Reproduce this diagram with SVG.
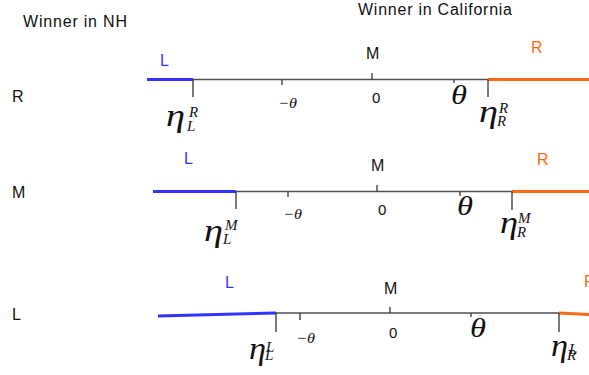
<svg xmlns="http://www.w3.org/2000/svg" width="589" height="375" viewBox="0 0 589 375">
<style>
.t{font-family:"Liberation Sans",Arial,sans-serif;fill:#111}
.title{font-size:16px}
.lab{font-size:16px}
.seg{font-size:16px}
.zero{font-size:15px}
.blue{fill:#3333ff}
.org{fill:#ff6a13}
.m{font-family:"Liberation Serif","Times New Roman",serif;font-style:italic;fill:#111}
.eta{font-size:31px}
.th{font-size:27px}
.sm{font-size:15px}
.sc{font-size:15px}
.ax{stroke:#505050;stroke-width:1.3;fill:none}
.tk{stroke:#333;stroke-width:1.3;fill:none}
.bl{stroke:#3333ff;stroke-width:3;fill:none}
.or{stroke:#ff6a13;stroke-width:3;fill:none}
</style>
<rect width="589" height="375" fill="#fff"/>
<g id="titles">
<text class="t title" x="23" y="27" textLength="104" lengthAdjust="spacing">Winner in NH</text>
<text class="t title" x="358" y="15" textLength="154" lengthAdjust="spacing">Winner in California</text>
</g>
<g id="row-R">
<text class="t lab" x="12" y="102">R</text>
<line class="bl" x1="147" y1="79.5" x2="193" y2="79.5"/>
<line class="ax" x1="193" y1="79.5" x2="488" y2="79.5"/>
<line class="or" x1="488" y1="79.5" x2="589" y2="79.5"/>
<line class="tk" x1="193" y1="79.5" x2="193" y2="97"/>
<line class="tk" x1="282" y1="79.5" x2="282" y2="85"/>
<line class="tk" x1="372" y1="73" x2="372" y2="79.5"/>
<line class="tk" x1="454" y1="79.5" x2="454" y2="83"/>
<line class="tk" x1="488" y1="79.5" x2="488" y2="97"/>
<text class="t seg blue" x="160" y="66">L</text>
<text class="t seg" x="366" y="59">M</text>
<text class="t seg org" x="531" y="53">R</text>
<text class="t zero" x="372" y="103">0</text>
<text class="m sm" x="278" y="108" textLength="19" lengthAdjust="spacingAndGlyphs">−θ</text>
<text class="m th" x="451" y="104" textLength="16" lengthAdjust="spacingAndGlyphs">θ</text>
<text class="m eta" x="166" y="126" textLength="19" lengthAdjust="spacingAndGlyphs">η</text>
<text class="m sc" x="189" y="117">R</text>
<text class="m sc" x="187" y="131">L</text>
<text class="m eta" x="479" y="122" textLength="19" lengthAdjust="spacingAndGlyphs">η</text>
<text class="m sc" x="499" y="113">R</text>
<text class="m sc" x="497" y="126">R</text>
</g>
<g id="row-M">
<text class="t lab" x="12" y="198">M</text>
<line class="bl" x1="153" y1="191.5" x2="236" y2="191.5"/>
<line class="ax" x1="236" y1="191.5" x2="512" y2="191.5"/>
<line class="or" x1="512" y1="191.5" x2="589" y2="191.5"/>
<line class="tk" x1="236" y1="191.5" x2="236" y2="209"/>
<line class="tk" x1="288" y1="191.5" x2="288" y2="197"/>
<line class="tk" x1="377" y1="185" x2="377" y2="191.5"/>
<line class="tk" x1="460" y1="191.5" x2="460" y2="196"/>
<line class="tk" x1="512" y1="191.5" x2="512" y2="210"/>
<text class="t seg blue" x="184" y="164">L</text>
<text class="t seg" x="371" y="171">M</text>
<text class="t seg org" x="537" y="165">R</text>
<text class="t zero" x="378" y="215">0</text>
<text class="m sm" x="283" y="219" textLength="19" lengthAdjust="spacingAndGlyphs">−θ</text>
<text class="m th" x="457" y="215" textLength="16" lengthAdjust="spacingAndGlyphs">θ</text>
<text class="m eta" x="204" y="241" textLength="19" lengthAdjust="spacingAndGlyphs">η</text>
<text class="m sc" x="225" y="230">M</text>
<text class="m sc" x="223" y="244">L</text>
<text class="m eta" x="500" y="233" textLength="18" lengthAdjust="spacingAndGlyphs">η</text>
<text class="m sc" x="518" y="223">M</text>
<text class="m sc" x="517" y="237">R</text>
</g>
<g id="row-L">
<text class="t lab" x="12" y="320">L</text>
<line class="bl" x1="158" y1="316" x2="276" y2="313"/>
<line class="ax" x1="276" y1="313" x2="559" y2="313"/>
<line class="or" x1="559" y1="313" x2="589" y2="314.5"/>
<line class="tk" x1="276" y1="313" x2="276" y2="332"/>
<line class="tk" x1="300" y1="313" x2="300" y2="320"/>
<line class="tk" x1="390" y1="307" x2="390" y2="313"/>
<line class="tk" x1="471" y1="313" x2="471" y2="317"/>
<line class="tk" x1="559" y1="313" x2="559" y2="332"/>
<text class="t seg blue" x="225" y="288">L</text>
<text class="t seg" x="384" y="294">M</text>
<text class="t seg org" x="584" y="287">R</text>
<text class="t zero" x="389" y="338">0</text>
<text class="m sm" x="296" y="343" textLength="19" lengthAdjust="spacingAndGlyphs">−θ</text>
<text class="m th" x="470" y="337" textLength="16" lengthAdjust="spacingAndGlyphs">θ</text>
<text class="m eta" x="249" y="359" textLength="17" lengthAdjust="spacingAndGlyphs">η</text>
<text class="m sc" x="266" y="352">L</text>
<text class="m sc" x="265" y="360">L</text>
<text class="m eta" x="551" y="356" textLength="17" lengthAdjust="spacingAndGlyphs">η</text>
<text class="m sc" x="569" y="354">L</text>
<text class="m sc" x="567" y="360">R</text>
</g>
</svg>
